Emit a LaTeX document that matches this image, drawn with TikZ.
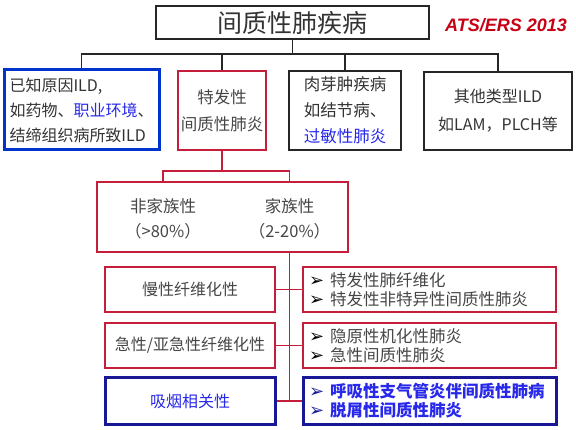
\documentclass[tikz,border=0pt]{standalone}
\usepackage{fontspec}
\usepackage{xcolor}
\newfontfamily\cjk{Noto Sans CJK SC}
\newfontfamily\symf{DejaVu Sans}
\newfontfamily\latf{Liberation Sans}
\usetikzlibrary{positioning}

\definecolor{boxred}{RGB}{196,30,58}
\definecolor{boxblue}{RGB}{0,51,204}
\definecolor{navy}{RGB}{24,24,150}
\definecolor{txtgray}{RGB}{70,70,70}
\definecolor{linkblue}{RGB}{40,40,235}
\definecolor{atsred}{RGB}{200,0,20}

\tikzset{
  box/.style={draw=black!85, line width=1.2pt, inner sep=0pt, align=center,
    text=black!80, font=\cjk\fontsize{16}{25}\selectfont},
  redbox/.style={box, draw=boxred, line width=1.4pt, text=txtgray},
  bluebox/.style={box, draw=boxblue, line width=3pt},
  navybox/.style={box, draw=navy, line width=3pt, text=linkblue},
  listbox/.style={redbox, align=left, text width=241pt, inner xsep=6pt,
    minimum width=253pt, minimum height=45pt, font=\cjk\fontsize{16.5}{19}\selectfont},
  link/.style={draw=black!85, line width=1.2pt},
  redlink/.style={draw=boxred, line width=1.4pt},
  plain/.style={inner sep=0pt, text=txtgray, font=\cjk\fontsize{16.5}{20}\selectfont}
}
\newcommand{\tip}[1][black]{{\color{#1}\symf\fontsize{18}{18}\selectfont ➢}\hspace{6pt}}

\begin{document}
\begin{tikzpicture}[x=1pt,y=-1pt]
  \useasboundingbox (0,0) rectangle (576,430);

  % Top level
  \node[box, minimum width=273pt, minimum height=33pt, font=\cjk\fontsize{25}{25}\selectfont]
    (ild) at (292.5,22.5) {间质性肺疾病};
  \node[inner sep=0pt, text=atsred, font=\latf\bfseries\itshape\fontsize{18}{18}\selectfont]
    (ats) at (506,25) {ATS/ERS 2013};

  % First row
  \node[bluebox, minimum width=155pt, minimum height=80pt, align=left]
    (known) at (81.5,110) {已知原因ILD,\\如药物、\textcolor{linkblue}{职业环境}、\\结缔组织病所致ILD};
  \node[redbox, minimum width=88pt, minimum height=79pt, font=\cjk\fontsize{16.5}{27}\selectfont]
    (idio) at (222,110.5) {特发性\\间质性肺炎};
  \node[box, minimum width=112pt, minimum height=79pt, align=left, font=\cjk\fontsize{16.5}{26}\selectfont]
    (gran) at (345,110.5) {肉芽肿疾病\\如结节病、\\\textcolor{linkblue}{过敏性肺炎}};
  \node[box, minimum width=148pt, minimum height=78pt, font=\cjk\fontsize{16}{28}\selectfont]
    (other) at (498,111) {其他类型ILD\\如LAM，PLCH等};

  \coordinate (bus) at (292.5,54);
  \draw[link] (ild.south) -- (bus);
  \draw[link] (known.north) |- (bus) -| (other.north);
  \draw[link] (idio.north) -- (idio.north |- bus);
  \draw[link] (gran.north) -- (gran.north |- bus);

  % Familial split
  \node[redbox, minimum width=251pt, minimum height=70pt] (family) at (222.5,217) {};
  \node[plain, align=center, font=\cjk\fontsize{16.5}{25}\selectfont] (nonfam) at (163,219) {非家族性\\（>80\%）};
  \node[plain, align=center, font=\cjk\fontsize{16.5}{25}\selectfont] (fam) at (289.5,219) {家族性\\（2-20\%）};

  \coordinate (split) at (222,171);
  \draw[redlink] (idio.south) -- (split);
  \draw[redlink] (nonfam |- family.north) |- (split) -| (fam |- family.north);

  % Clinical groups
  \node[redbox, minimum width=170pt, minimum height=45pt] (chronic) at (190,289.5) {慢性纤维化性};
  \node[redbox, minimum width=170pt, minimum height=45pt] (acute) at (190,345.5) {急性/亚急性纤维化性};
  \node[navybox, minimum width=170pt, minimum height=46pt] (smoke) at (190,401) {吸烟相关性};

  \node[listbox] (chronicR) at (429.5,289.5) {\tip 特发性肺纤维化\\\tip 特发性非特异性间质性肺炎};
  \node[listbox] (acuteR) at (429.5,345.5) {\tip 隐原性机化性肺炎\\\tip 急性间质性肺炎};
  \node[listbox, draw=navy, line width=3pt, minimum height=46pt, text=linkblue]
    (smokeR) at (429.5,401) {\tip[navy]\textbf{呼吸性支气管炎伴间质性肺病}\\\tip[navy]\textbf{脱屑性间质性肺炎}};

  \draw[redlink] (fam |- family.south) -- (fam |- smoke.east);
  \foreach \l/\r in {chronic/chronicR, acute/acuteR, smoke/smokeR}
    \draw[redlink] (\l.east) -- (\r.west);
\end{tikzpicture}
\end{document}
